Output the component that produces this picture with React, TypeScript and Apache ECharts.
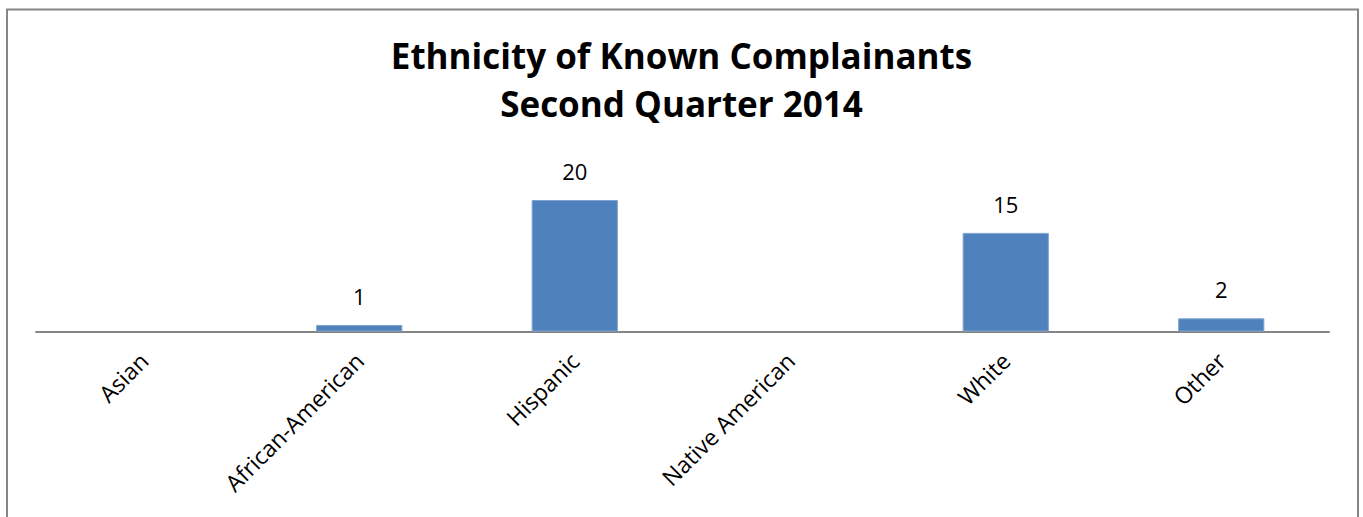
import React, { useEffect, useRef } from "react";
import * as echarts from "echarts";

const titleLines = ["Ethnicity of Known Complainants", "Second Quarter 2014"];
const categories = ["Asian", "African-American", "Hispanic", "Native American", "White", "Other"];
const values: (number | null)[] = [0, 1, 20, 0, 15, 2];

export default function App() {
  const ref = useRef<HTMLDivElement>(null);
  useEffect(() => {
    if (!ref.current) return;
    const chart = echarts.init(ref.current, null, { renderer: "svg" });
    chart.setOption({
      animation: false,
      backgroundColor: "#ffffff",
      title: {
        text: titleLines.join("\n"),
        left: "center",
        top: 26,
        textStyle: {
          fontFamily: "'Open Sans', sans-serif",
          fontSize: 35,
          fontWeight: "bold",
          color: "#000000",
          lineHeight: 48,
        },
      },
      graphic: [
        {
          type: "rect",
          shape: { x: 7, y: 9.5, width: 1351, height: 530 },
          style: { fill: "none", stroke: "#868686", lineWidth: 2 },
          silent: true,
        },
      ],
      grid: { left: 36, right: 34, top: 200, height: 131.5, containLabel: false },
      xAxis: {
        type: "category",
        data: categories,
        axisLine: { show: true, lineStyle: { color: "#868686", width: 2 } },
        axisTick: { show: false },
        axisLabel: {
          rotate: 45,
          margin: 25,
          fontFamily: "'Open Sans', 'Noto Sans', sans-serif",
          fontSize: 23,
          color: "#000000",
          interval: 0,
        },
      },
      yAxis: {
        type: "value",
        min: 0,
        max: 20,
        show: false,
        splitLine: { show: false },
      },
      series: [
        {
          type: "bar",
          data: values.map((v) => (v === 0 ? null : v)),
          barWidth: "40%",
          itemStyle: { color: "#4F81BD", borderColor: "#7EA3D0", borderWidth: 1 },
          label: {
            show: true,
            position: "top",
            distance: 18,
            fontFamily: "'Open Sans', 'Noto Sans', sans-serif",
            fontSize: 22,
            color: "#000000",
          },
        },
      ],
    });
    return () => chart.dispose();
  }, []);
  return (
    <div
      ref={ref}
      style={{ position: "fixed", left: 0, top: 0, width: 1363, height: 517 }}
    />
  );
}
